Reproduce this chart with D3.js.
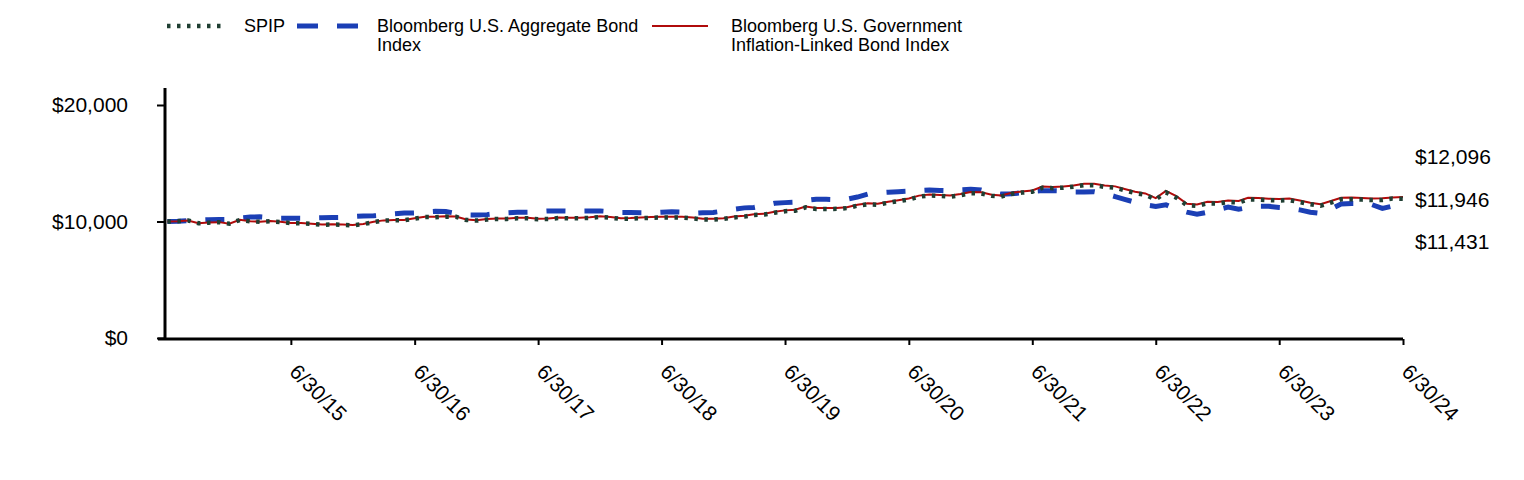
<!DOCTYPE html>
<html>
<head>
<meta charset="utf-8">
<script src="https://cdn.jsdelivr.net/npm/d3@7"></script>
<style>
  html, body { margin: 0; padding: 0; background: #fff; }
  svg { display: block; font-family: "Liberation Sans", Arial, sans-serif; }
</style>
</head>
<body>
<svg id="chart" width="1524" height="480"></svg>
<script>
// ---- data ----
const startDate = "2014-06-30";
const seriesNames = ["SPIP", "Bloomberg U.S. Aggregate Bond Index", "Bloomberg U.S. Government Inflation-Linked Bond Index"];
const spip = [
  10000,10020,10090,9850,9900,9940,9810,10130,10020,9970,10020,9960,
  9860,9850,9800,9720,9740,9720,9670,9770,9950,10070,10110,10110,
  10250,10380,10370,10420,10400,10130,10080,10170,10220,10220,10280,10270,
  10200,10210,10300,10280,10280,10310,10390,10330,10220,10240,10290,10320,
  10340,10340,10340,10270,10170,10160,10220,10350,10420,10560,10600,10760,
  10880,10930,11210,11080,11080,11085,11150,11360,11480,11440,11610,11740,
  11880,12130,12230,12190,12130,12260,12430,12410,12200,12140,12370,12480,
  12560,12890,12860,12900,12990,13120,13120,12970,12900,12680,12440,12290,
  11890,12500,12050,11400,11330,11560,11540,11670,11630,11900,11880,11830,
  11800,11830,11660,11480,11350,11620,11900,11910,11880,11840,11850,11970,
  11946
];
const agg = [
  10000,10020,10080,10130,10160,10170,10180,10300,10380,10400,10330,10280,
  10280,10270,10300,10330,10340,10350,10420,10470,10490,10550,10660,10720,
  10740,10830,10880,10860,10700,10570,10560,10590,10700,10740,10790,10800,
  10860,10910,10910,10890,10900,10910,10910,10850,10770,10770,10760,10750,
  10800,10830,10800,10700,10750,10780,10900,11050,11170,11200,11380,11570,
  11620,11650,11800,11910,11900,11870,11910,12100,12350,12460,12520,12560,
  12600,12650,12700,12660,12640,12720,12760,12700,12470,12350,12380,12460,
  12580,12650,12650,12620,12540,12540,12560,12400,12140,11900,11650,11420,
  11300,11440,11050,10800,10620,10800,11020,11230,11050,11200,11310,11310,
  11200,11150,11000,10800,10700,11080,11510,11550,11550,11450,11120,11320,
  11431
];
const tips = [
  10000,10021,10093,9854,9905,9946,9818,10139,10030,9981,10033,9974,
  9875,9866,9817,9739,9760,9741,9692,9794,9975,10096,10137,10139,
  10280,10411,10403,10454,10435,10166,10117,10209,10260,10261,10322,10314,
  10245,10256,10348,10329,10330,10361,10442,10384,10275,10296,10347,10379,
  10400,10401,10402,10334,10235,10226,10287,10419,10490,10631,10672,10834,
  10955,11006,11287,11159,11160,11166,11232,11444,11565,11526,11698,11829,
  11970,12221,12322,12284,12225,12356,12527,12508,12299,12240,12471,12584,
  12665,12996,12967,13009,13100,13231,13232,13084,13015,12796,12557,12409,
  12010,12621,12172,11523,11454,11685,11666,11797,11758,12029,12010,11961,
  11935,11966,11797,11618,11489,11760,12041,12052,12023,11984,11995,12070,
  12096
];
const xTickLabels = ["6/30/15","6/30/16","6/30/17","6/30/18","6/30/19","6/30/20","6/30/21","6/30/22","6/30/23","6/30/24"];
const yTicks = [0, 10000, 20000];
const endLabels = ["$12,096", "$11,946", "$11,431"];

// ---- build ----
const parse = d3.timeParse("%Y-%m-%d");
const start = parse(startDate);
const dates = spip.map((_, i) => d3.timeMonth.offset(start, i));
const tickDates = xTickLabels.map(s => d3.timeParse("%m/%d/%y")(s));

const svg = d3.select("#chart");
const x = d3.scaleTime().domain([start, tickDates[tickDates.length - 1]]).range([167.4, 1403]);
const y = d3.scaleLinear().domain([0, 20000]).range([338, 105]);

const SPIP_COLOR = "#203f33";
const AGG_COLOR = "#1b3fb5";
const TIPS_COLOR = "#b00b0b";

// Y axis
const yAxis = d3.axisLeft(y).tickValues(yTicks).tickSize(8).tickPadding(29)
  .tickFormat(d => "$" + d3.format(",")(d));
const gy = svg.append("g").attr("transform", "translate(165,0)").call(yAxis);
gy.select(".domain").remove();
gy.selectAll(".tick line").attr("stroke", "#000").attr("stroke-width", 2);
gy.selectAll(".tick text").attr("font-size", 21).attr("fill", "#000")
  .attr("font-family", "'Liberation Sans', Arial, sans-serif");
svg.append("line").attr("x1", 165).attr("x2", 165).attr("y1", 88).attr("y2", 340)
  .attr("stroke", "#000").attr("stroke-width", 3);

// X axis
const xAxis = d3.axisBottom(x).tickValues(tickDates).tickSize(6)
  .tickFormat((d, i) => xTickLabels[i]);
const gx = svg.append("g").attr("transform", "translate(0,339)").call(xAxis);
gx.select(".domain").remove();
gx.selectAll(".tick line").attr("stroke", "#000").attr("stroke-width", 2);
gx.selectAll(".tick text").attr("font-size", 21).attr("fill", "#000")
  .attr("font-family", "'Liberation Sans', Arial, sans-serif")
  .attr("text-anchor", "start").attr("y", 0).attr("dy", 0)
  .attr("transform", "translate(-3,34) rotate(45)");
svg.append("line").attr("x1", 158).attr("x2", 1403).attr("y1", 339).attr("y2", 339)
  .attr("stroke", "#000").attr("stroke-width", 3);

// Lines
const line = d3.line().x((d, i) => x(dates[i])).y(d => y(d));
svg.append("path").datum(agg).attr("d", line).attr("fill", "none")
  .attr("stroke", AGG_COLOR).attr("stroke-width", 5).attr("stroke-dasharray", "19 19");
svg.append("path").datum(tips).attr("d", line).attr("fill", "none")
  .attr("stroke", TIPS_COLOR).attr("stroke-width", 2);
svg.append("path").datum(spip).attr("d", line).attr("fill", "none")
  .attr("stroke", SPIP_COLOR).attr("stroke-width", 4.5).attr("stroke-dasharray", "3.5 6.5");

// End labels
const endY = [157, 200, 242];
svg.selectAll(".endlab").data(endLabels).enter().append("text")
  .attr("x", 1415).attr("y", (d, i) => endY[i]).attr("dy", "0.35em")
  .attr("font-size", 21).attr("fill", "#000").text(d => d);

// Legend
const lg = svg.append("g").attr("font-size", 18).attr("fill", "#000");
lg.append("line").attr("x1", 167).attr("x2", 224).attr("y1", 26).attr("y2", 26)
  .attr("stroke", SPIP_COLOR).attr("stroke-width", 4.5).attr("stroke-dasharray", "3.5 6.5");
lg.append("text").attr("x", 244).attr("y", 26).attr("dy", "0.35em").text("SPIP");
lg.append("line").attr("x1", 297).attr("x2", 358).attr("y1", 26).attr("y2", 26)
  .attr("stroke", AGG_COLOR).attr("stroke-width", 5).attr("stroke-dasharray", "21 19");
const t2 = lg.append("text").attr("x", 377).attr("y", 26).attr("dy", "0.35em");
t2.append("tspan").attr("x", 377).text("Bloomberg U.S. Aggregate Bond");
t2.append("tspan").attr("x", 377).attr("dy", 19).text("Index");
lg.append("line").attr("x1", 652).attr("x2", 708).attr("y1", 26).attr("y2", 26)
  .attr("stroke", TIPS_COLOR).attr("stroke-width", 2);
const t3 = lg.append("text").attr("x", 731).attr("y", 26).attr("dy", "0.35em");
t3.append("tspan").attr("x", 731).text("Bloomberg U.S. Government");
t3.append("tspan").attr("x", 731).attr("dy", 19).text("Inflation-Linked Bond Index");
</script>
</body>
</html>
